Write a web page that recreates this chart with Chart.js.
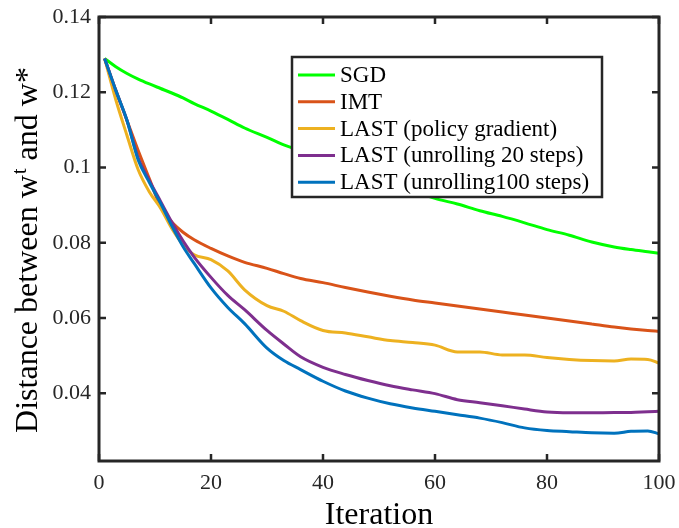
<!DOCTYPE html>
<html>
<head>
<meta charset="utf-8">
<script src="https://cdn.jsdelivr.net/npm/chart.js@4"></script>
<style>
  html, body { margin: 0; padding: 0; background: #ffffff; }
  #c { display: block; }
</style>
</head>
<body>
<canvas id="c" width="679" height="528"></canvas>
<script>
// ---- data ----
const iterations = [1, 3, 5, 7, 9, 11, 13, 15, 17, 20, 23, 26, 30, 33, 36, 40, 44, 48, 52, 56, 60, 64, 68, 72, 76, 80, 84, 88, 92, 95, 98, 100];

const sgd = [0.1290, 0.1268, 0.1250, 0.1235, 0.1222, 0.1210, 0.1198, 0.1185, 0.1170, 0.1150, 0.1128, 0.1105, 0.1080, 0.1060, 0.1045, 0.1023, 0.1000, 0.0980, 0.0960, 0.0940, 0.0918, 0.0903, 0.0885, 0.0870, 0.0853, 0.0835, 0.0820, 0.0802, 0.0789, 0.0782, 0.0776, 0.0772];
const imt = [0.1290, 0.1205, 0.1125, 0.1045, 0.0970, 0.0895, 0.0855, 0.0828, 0.0808, 0.0785, 0.0765, 0.0748, 0.0732, 0.0718, 0.0705, 0.0694, 0.0681, 0.0669, 0.0658, 0.0648, 0.0640, 0.0632, 0.0624, 0.0616, 0.0608, 0.0600, 0.0592, 0.0584, 0.0576, 0.0571, 0.0567, 0.0565];
const lastPolicyGradient = [0.1290, 0.1180, 0.1085, 0.0994, 0.0935, 0.0892, 0.0838, 0.0795, 0.0768, 0.0755, 0.0725, 0.0675, 0.0633, 0.0618, 0.0593, 0.0567, 0.0560, 0.0550, 0.0540, 0.0535, 0.0528, 0.0510, 0.0510, 0.0502, 0.0502, 0.0495, 0.0490, 0.0487, 0.0486, 0.0491, 0.0490, 0.0480];
const lastUnroll20 = [0.1290, 0.1205, 0.1125, 0.1025, 0.0965, 0.0910, 0.0855, 0.0805, 0.0762, 0.0708, 0.0660, 0.0622, 0.0567, 0.0531, 0.0497, 0.0469, 0.0450, 0.0434, 0.0420, 0.0409, 0.0399, 0.0383, 0.0375, 0.0367, 0.0358, 0.0350, 0.0348, 0.0348, 0.0349, 0.0349, 0.0351, 0.0352];
const lastUnroll100 = [0.1290, 0.1205, 0.1125, 0.1020, 0.0960, 0.0905, 0.0845, 0.0790, 0.0745, 0.0680, 0.0628, 0.0585, 0.0520, 0.0487, 0.0463, 0.0432, 0.0406, 0.0387, 0.0372, 0.0361, 0.0352, 0.0343, 0.0334, 0.0322, 0.0308, 0.0301, 0.0298, 0.0295, 0.0294, 0.0299, 0.0300, 0.0292];

const seriesLabels = ["SGD", "IMT", "LAST (policy gradient)", "LAST (unrolling 20 steps)", "LAST (unrolling100 steps)"];
const seriesColors = ["#00FF00", "#D95319", "#EDB120", "#7E2F8E", "#0072BD"];
const yTicks = [0.04, 0.06, 0.08, 0.10, 0.12, 0.14];
const xTicks = [0, 20, 40, 60, 80, 100];
const xTitle = "Iteration";
const yTitleParts = ["Distance between w", "t", " and w*"];

// ---- build chart ----
const seriesValues = [sgd, imt, lastPolicyGradient, lastUnroll20, lastUnroll100];
const AXIS = "#262626";
const SERIF = "'Liberation Serif', 'Times New Roman', serif";

const datasets = seriesValues.map((vals, k) => ({
  label: seriesLabels[k],
  data: iterations.map((it, i) => ({ x: it, y: vals[i] })),
  borderColor: seriesColors[k],
  backgroundColor: seriesColors[k],
  borderWidth: 3,
  pointRadius: 0,
  fill: false,
  cubicInterpolationMode: "monotone",
  order: seriesValues.length - k
}));

const framePlugin = {
  id: "matlabFrame",
  afterDraw(chart) {
    const ctx = chart.ctx;
    const a = chart.chartArea;
    const xs = chart.scales.x, ys = chart.scales.y;
    ctx.save();
    // ticks (inward)
    ctx.strokeStyle = AXIS;
    ctx.lineWidth = 2.5;
    const tl = 7;
    ctx.beginPath();
    yTicks.forEach(v => {
      const y = ys.getPixelForValue(v);
      ctx.moveTo(a.left, y); ctx.lineTo(a.left + tl, y);
      ctx.moveTo(a.right, y); ctx.lineTo(a.right - tl, y);
    });
    xTicks.forEach(v => {
      const x = xs.getPixelForValue(v);
      ctx.moveTo(x, a.bottom); ctx.lineTo(x, a.bottom - tl);
      ctx.moveTo(x, a.top); ctx.lineTo(x, a.top + tl);
    });
    ctx.stroke();
    // box
    ctx.lineWidth = 3;
    ctx.strokeRect(a.left, a.top, a.right - a.left, a.bottom - a.top);

    // legend
    const lx = 292, ly = 57, lw = 310, lh = 140;
    ctx.fillStyle = "#ffffff";
    ctx.fillRect(lx, ly, lw, lh);
    ctx.lineWidth = 2.5;
    ctx.strokeStyle = AXIS;
    ctx.strokeRect(lx, ly, lw, lh);
    ctx.font = "23px " + SERIF;
    ctx.textBaseline = "middle";
    ctx.textAlign = "left";
    chart.data.datasets.forEach((ds, k) => {
      const cy = 75 + k * 26.8;
      ctx.strokeStyle = ds.borderColor;
      ctx.lineWidth = 3;
      ctx.beginPath();
      ctx.moveTo(298, cy); ctx.lineTo(335, cy);
      ctx.stroke();
      ctx.fillStyle = "#000000";
      ctx.fillText(ds.label, 340, cy + 1);
    });

    // x title
    ctx.fillStyle = "#000000";
    ctx.font = "32px " + SERIF;
    ctx.textAlign = "center";
    ctx.textBaseline = "alphabetic";
    ctx.fillText(xTitle, (a.left + a.right) / 2, 524);

    // y title (rotated, with superscript t)
    const mainFont = "32px " + SERIF;
    const supFont = "21px " + SERIF;
    ctx.font = mainFont;
    const w1 = ctx.measureText(yTitleParts[0]).width;
    const w3 = ctx.measureText(yTitleParts[2]).width;
    ctx.font = supFont;
    const w2 = ctx.measureText(yTitleParts[1]).width + 1;
    const total = w1 + w2 + w3;
    ctx.translate(37, 250);
    ctx.rotate(-Math.PI / 2);
    ctx.textAlign = "left";
    let x0 = -total / 2;
    ctx.font = mainFont;
    ctx.fillText(yTitleParts[0], x0, 0);
    ctx.font = supFont;
    ctx.fillText(yTitleParts[1], x0 + w1 + 1, -11);
    ctx.font = mainFont;
    ctx.fillText(yTitleParts[2], x0 + w1 + w2, 0);
    ctx.restore();
  }
};

new Chart(document.getElementById("c"), {
  type: "line",
  data: { datasets },
  options: {
    responsive: false,
    devicePixelRatio: 1,
    animation: false,
    layout: { padding: { top: 17, right: 20, left: 0, bottom: 0 } },
    plugins: { legend: { display: false }, tooltip: { enabled: false } },
    scales: {
      x: {
        type: "linear",
        min: 0, max: 100,
        afterFit: s => { s.height = 67; s.paddingLeft = 0; s.paddingRight = 0; },
        afterBuildTicks: s => { s.ticks = xTicks.map(v => ({ value: v })); },
        grid: { display: false, drawTicks: false },
        border: { display: false },
        ticks: {
          padding: 9,
          color: AXIS,
          font: { family: SERIF, size: 22 },
          maxRotation: 0,
          autoSkip: false,
          callback: v => String(v)
        }
      },
      y: {
        type: "linear",
        min: 0.022, max: 0.14,
        afterFit: s => { s.width = 99; s.paddingTop = 0; s.paddingBottom = 0; },
        afterBuildTicks: s => { s.ticks = yTicks.map(v => ({ value: v })); },
        grid: { display: false, drawTicks: false },
        border: { display: false },
        ticks: {
          padding: 8,
          color: AXIS,
          font: { family: SERIF, size: 22 },
          autoSkip: false,
          callback: v => String(Number(v.toFixed(2)))
        }
      }
    }
  },
  plugins: [framePlugin]
});
</script>
</body>
</html>
